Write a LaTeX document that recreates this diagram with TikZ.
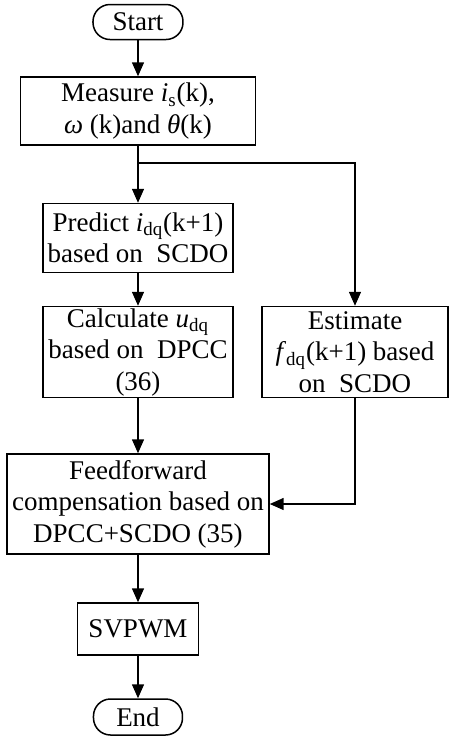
\documentclass[tikz,border=0pt]{standalone}
\usepackage{fontspec}
\setmainfont{Liberation Serif}
\usepackage{tikz}
\usetikzlibrary{arrows.meta}

\tikzset{
  box/.style={draw, line width=0.75pt, align=center, inner sep=0pt},
  term/.style={box, rounded corners=8.5pt},
  flow/.style={line width=0.75pt, -{Triangle[length=7pt,width=6pt]}}
}
\newcommand{\varsub}[2]{\textit{#1}\textsubscript{#2}}

\begin{document}
\begin{tikzpicture}[x=0.5pt, y=-0.5pt, font=\fontsize{13.5}{15.75}\selectfont]
     \useasboundingbox (0,0) rectangle (449,736);
     % left column
     \node[term, minimum width=45pt, minimum height=17.5pt] (start) at (138,22) {Start};
     \node[box, minimum width=117.5pt, minimum height=34pt] (measure) at (138,111)
          {Measure \varsub{i}{s}(k),\\ \textit{ω} (k)and \textit{θ}(k)};
     \coordinate (split) at (138,163);
     \node[box, minimum width=95pt, minimum height=34.5pt] (predict) at (138,238)
          {Predict \varsub{i}{dq}(k+1)\\ based on~ SCDO};
     \node[box, minimum width=95pt, minimum height=45.5pt] (calc) at (138,352)
          {Calculate \varsub{u}{dq}\\ based on~ DPCC\\ (36)};
     % right branch
     \node[box, minimum width=93pt, minimum height=45.5pt] (estimate) at (355,352)
          {Estimate\\ \varsub{f}{dq}(k+1) based\\ on~ SCDO};
     \node[box, minimum width=131pt, minimum height=50pt] (feed) at (138,504)
          {Feedforward\\ compensation based on\\ DPCC+SCDO (35)};
     \node[box, minimum width=60.5pt, minimum height=26pt] (svpwm) at (138,629) {SVPWM};
     \node[term, minimum width=44.5pt, minimum height=18pt] (end) at (138,717) {End};

     \draw[flow] (start) -- (measure);
     \draw[line width=0.75pt] (measure) -- (split);
     \draw[flow] (split) -- (predict);
     \draw[flow] (split) -| (estimate);
     \draw[flow] (predict) -- (calc);
     \draw[flow] (calc) -- (feed);
     \draw[flow] (estimate) |- (feed);
     \draw[flow] (feed) -- (svpwm);
     \draw[flow] (svpwm) -- (end);
\end{tikzpicture}
\end{document}
